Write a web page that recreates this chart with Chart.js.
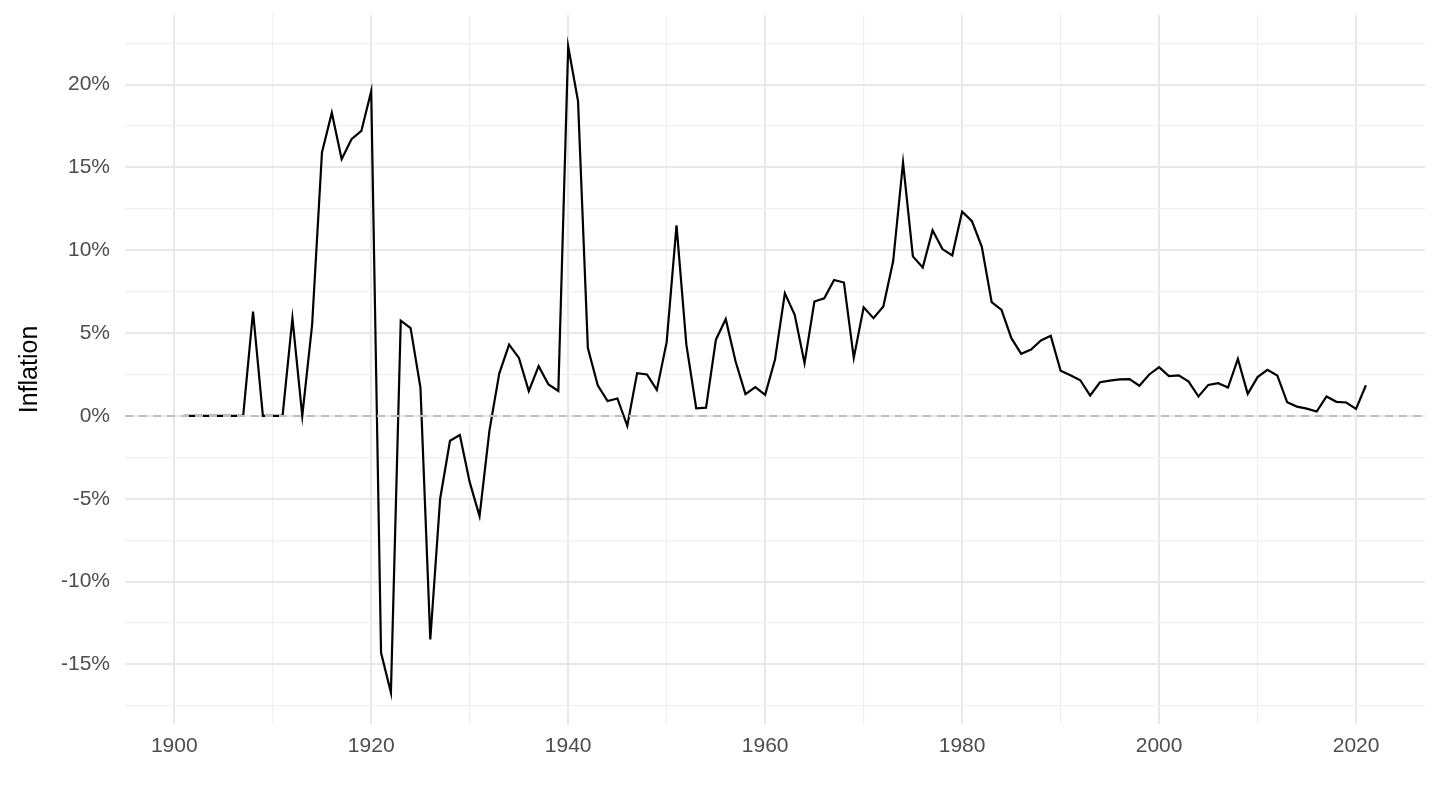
<!DOCTYPE html>
<html>
<head>
<meta charset="utf-8">
<script src="https://cdn.jsdelivr.net/npm/chart.js@4"></script>
<style>
  html, body { margin: 0; padding: 0; background: #ffffff; }
  #wrap { width: 1440px; height: 810px; }
</style>
</head>
<body>
<div id="wrap"><canvas id="c" width="1440" height="810"></canvas></div>
<script>
const years = [1901,1902,1903,1904,1905,1906,1907,1908,1909,1910,
  1911,1912,1913,1914,1915,1916,1917,1918,1919,1920,
  1921,1922,1923,1924,1925,1926,1927,1928,1929,1930,
  1931,1932,1933,1934,1935,1936,1937,1938,1939,1940,
  1941,1942,1943,1944,1945,1946,1947,1948,1949,1950,
  1951,1952,1953,1954,1955,1956,1957,1958,1959,1960,
  1961,1962,1963,1964,1965,1966,1967,1968,1969,1970,
  1971,1972,1973,1974,1975,1976,1977,1978,1979,1980,
  1981,1982,1983,1984,1985,1986,1987,1988,1989,1990,
  1991,1992,1993,1994,1995,1996,1997,1998,1999,2000,
  2001,2002,2003,2004,2005,2006,2007,2008,2009,2010,
  2011,2012,2013,2014,2015,2016,2017,2018,2019,2020,2021];

const inflation = [0,0,0,0,0,0,0,6.3,0,0,
  0,5.9,0,5.5,15.9,18.3,15.5,16.7,17.2,19.6,
  -14.3,-16.7,5.75,5.3,1.7,-13.5,-5.0,-1.5,-1.15,-4.0,
  -6.05,-0.9,2.55,4.3,3.5,1.5,3.0,1.9,1.5,22.3,
  19.0,4.1,1.85,0.9,1.05,-0.6,2.58,2.5,1.57,4.45,
  11.5,4.3,0.46,0.5,4.6,5.84,3.28,1.31,1.73,1.27,
  3.4,7.4,6.1,3.18,6.9,7.1,8.2,8.05,3.5,6.55,
  5.9,6.6,9.35,15.3,9.63,8.96,11.2,10.07,9.69,12.33,
  11.75,10.2,6.87,6.4,4.69,3.75,4.0,4.55,4.83,2.72,
  2.45,2.15,1.23,2.03,2.13,2.2,2.22,1.82,2.5,2.94,
  2.4,2.45,2.07,1.17,1.87,1.97,1.71,3.44,1.33,2.34,
  2.78,2.44,0.83,0.56,0.44,0.26,1.17,0.85,0.81,0.42,1.85];

const xTicks = [1900,1910,1920,1930,1940,1950,1960,1970,1980,1990,2000,2010,2020];
const yTicks = [-17.5,-15,-12.5,-10,-7.5,-5,-2.5,0,2.5,5,7.5,10,12.5,15,17.5,20,22.5];
const xRange = [1895, 2027];
const yRange = [-18.6, 24.2];
const refLevel = 0;

const series = years.map((y, i) => ({ x: y, y: inflation[i] }));
const refLine = xRange.map(x => ({ x: x, y: refLevel }));

const FONT = "'Liberation Sans', Arial, Helvetica, sans-serif";

new Chart(document.getElementById('c'), {
  type: 'line',
  data: {
    datasets: [
      {
        data: series,
        borderColor: '#000000',
        borderWidth: 2.2,
        pointRadius: 0,
        tension: 0,
        fill: false,
        order: 2
      },
      {
        data: refLine,
        borderColor: '#bebebe',
        borderWidth: 2,
        borderDash: [8, 6],
        pointRadius: 0,
        tension: 0,
        fill: false,
        order: 1
      }
    ]
  },
  options: {
    responsive: false,
    devicePixelRatio: 1,
    animation: false,
    layout: { padding: { left: 0, top: 15, right: 15, bottom: 0 } },
    plugins: { legend: { display: false }, tooltip: { enabled: false } },
    scales: {
      x: {
        type: 'linear',
        min: xRange[0],
        max: xRange[1],
        afterBuildTicks: s => { s.ticks = xTicks.map(v => ({ value: v })); },
        afterFit: s => { s.height = 86; s.paddingLeft = 0; s.paddingRight = 0; },
        border: { display: false },
        grid: {
          drawTicks: false,
          color: c => (c.tick && c.tick.value % 20 === 0) ? '#e8e8e8' : '#f0f0f0',
          lineWidth: c => (c.tick && c.tick.value % 20 === 0) ? 2 : 1.2
        },
        ticks: {
          padding: 10,
          color: '#4d4d4d',
          font: { family: FONT, size: 21 },
          maxRotation: 0,
          autoSkip: false,
          callback: v => (v % 20 === 0 ? String(v) : '')
        }
      },
      y: {
        type: 'linear',
        min: yRange[0],
        max: yRange[1],
        afterBuildTicks: s => { s.ticks = yTicks.map(v => ({ value: v })); },
        afterFit: s => { s.width = 125; s.paddingTop = 0; s.paddingBottom = 0; },
        border: { display: false },
        grid: {
          drawTicks: false,
          color: c => (c.tick && c.tick.value % 5 === 0) ? '#e8e8e8' : '#f0f0f0',
          lineWidth: c => (c.tick && c.tick.value % 5 === 0) ? 2 : 1.2
        },
        ticks: {
          padding: 15,
          color: '#4d4d4d',
          font: { family: FONT, size: 21 },
          autoSkip: false,
          callback: v => (v % 5 === 0 ? v + '%' : '')
        },
        title: {
          display: true,
          text: 'Inflation',
          color: '#000000',
          font: { family: FONT, size: 25 },
          padding: { top: 15, bottom: 0 }
        }
      }
    }
  }
});
</script>
</body>
</html>
